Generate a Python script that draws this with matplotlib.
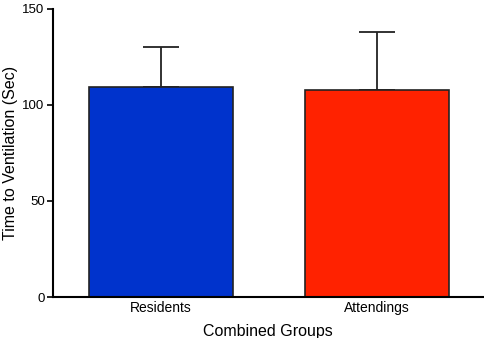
import matplotlib
matplotlib.use("Agg")
import matplotlib.pyplot as plt

categories = ["Residents", "Attendings"]
means = [109.2, 107.6]
errors_upper = [20.8, 30.3]
colors = ["#0033CC", "#FF2200"]
yticks = [0, 50, 100, 150]

plt.rcParams['font.family'] = ['Liberation Sans', 'DejaVu Sans']

fig = plt.figure(figsize=(4.84, 3.38), dpi=100)
ax = fig.add_axes([0.1095, 0.1213, 0.8885, 0.8521])

x = list(range(len(categories)))
ax.bar(x, means, width=0.668, color=colors, edgecolor="#222222", linewidth=1.2, zorder=2)
ax.errorbar(x, means, yerr=[[0] * len(means), errors_upper], fmt="none",
            ecolor="#222222", elinewidth=1.3, capsize=13, capthick=1.3, zorder=1)

ax.set_xlim(-0.501, 1.494)
ax.set_ylim(0, 150)
ax.set_yticks(yticks)
ax.set_xticks(x)
ax.set_xticklabels(categories, fontsize=10)
ax.tick_params(axis='y', labelsize=9.5, length=4, width=1.2, direction='out', pad=2)
ax.tick_params(axis='x', length=0, pad=3)
for s in ["top", "right"]:
    ax.spines[s].set_visible(False)
for s in ["left", "bottom"]:
    ax.spines[s].set_linewidth(1.5)
ax.set_xlabel("Combined Groups", fontsize=11.5, labelpad=6)
ax.set_ylabel("Time to Ventilation (Sec)", fontsize=11.5, labelpad=3)

fig.savefig("out.png", dpi=100)
